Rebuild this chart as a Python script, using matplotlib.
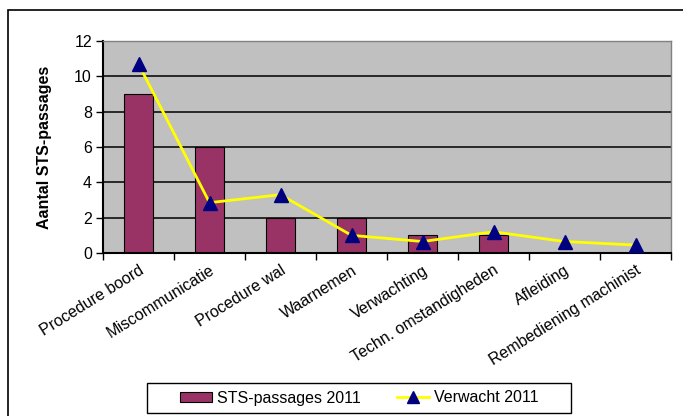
import numpy as np
import matplotlib.pyplot as plt
from matplotlib.patches import Rectangle

plt.rcParams['font.family'] = ['Liberation Sans', 'DejaVu Sans']

categories = ['Procedure boord', 'Miscommunicatie', 'Procedure wal', 'Waarnemen',
              'Verwachting', 'Techn. omstandigheden', 'Afleiding', 'Rembediening machinist']
sts_2011 = [9, 6, 2, 2, 1, 1, 0, 0]
verwacht_2011 = [10.7, 2.85, 3.3, 1.0, 0.65, 1.2, 0.65, 0.45]

fig = plt.figure(figsize=(6.83, 4.16), dpi=100)
# outer chart border
fig.patches.append(Rectangle((8 / 683, -0.1), 1.0, 1.1 - 10 / 416, transform=fig.transFigure,
                             fill=False, edgecolor='black', linewidth=1.2))
# legend border box
fig.patches.append(Rectangle((147 / 683, 1 - 413 / 416), 424 / 683, 30 / 416,
                             transform=fig.transFigure, fill=False, edgecolor='black',
                             linewidth=1))

ax = fig.add_axes([103 / 683, 1 - 253 / 416, 568 / 683, 212 / 416])
ax.set_facecolor('#C0C0C0')

x = np.arange(len(categories))
bars = ax.bar(x, sts_2011, width=0.4, color='#993366', edgecolor='black', linewidth=0.8,
              label='STS-passages 2011', zorder=2)
line, = ax.plot(x, verwacht_2011, color='#FFFF00', linewidth=2, marker='^', markersize=10,
                markerfacecolor='#000080', markeredgecolor='#000080', label='Verwacht 2011',
                zorder=3)

ax.set_xlim(-0.5, len(categories) - 0.5)
ax.set_ylim(0, 12)
ax.set_yticks(range(0, 13, 2))
ax.yaxis.grid(True, color='black', linewidth=1.1, zorder=1)
ax.set_axisbelow(True)

ax.set_xticks(np.arange(len(categories) + 1) - 0.5)
ax.set_xticklabels([])
ax.set_xticks(x, minor=True)
ax.set_xticklabels(categories, minor=True, rotation=32, ha='right', rotation_mode='anchor',
                   fontsize=11.5)
ax.tick_params(axis='x', which='minor', length=0, pad=7)
ax.tick_params(axis='x', which='major', direction='out', length=5, width=1)
ax.tick_params(axis='y', direction='out', length=5, width=1, labelsize=11.5, pad=3)

for s in ['left', 'bottom']:
    ax.spines[s].set_linewidth(1.5)
    ax.spines[s].set_color('black')
for s in ['top', 'right']:
    ax.spines[s].set_color('#808080')
    ax.spines[s].set_linewidth(1)

ax.set_ylabel('Aantal STS-passages', fontsize=11.5, fontweight='bold')
ax.yaxis.set_label_coords(-0.09, 0.5)

leg = fig.legend([bars, line], ['STS-passages 2011', 'Verwacht 2011'], loc='center',
                 bbox_to_anchor=(359 / 683, 1 - 398 / 416), ncol=2, frameon=False,
                 fontsize=11.5, handlelength=2.0, handleheight=0.55, columnspacing=2.3,
                 handletextpad=0.3, markerscale=0.8)

fig.savefig('out.png', dpi=100)
